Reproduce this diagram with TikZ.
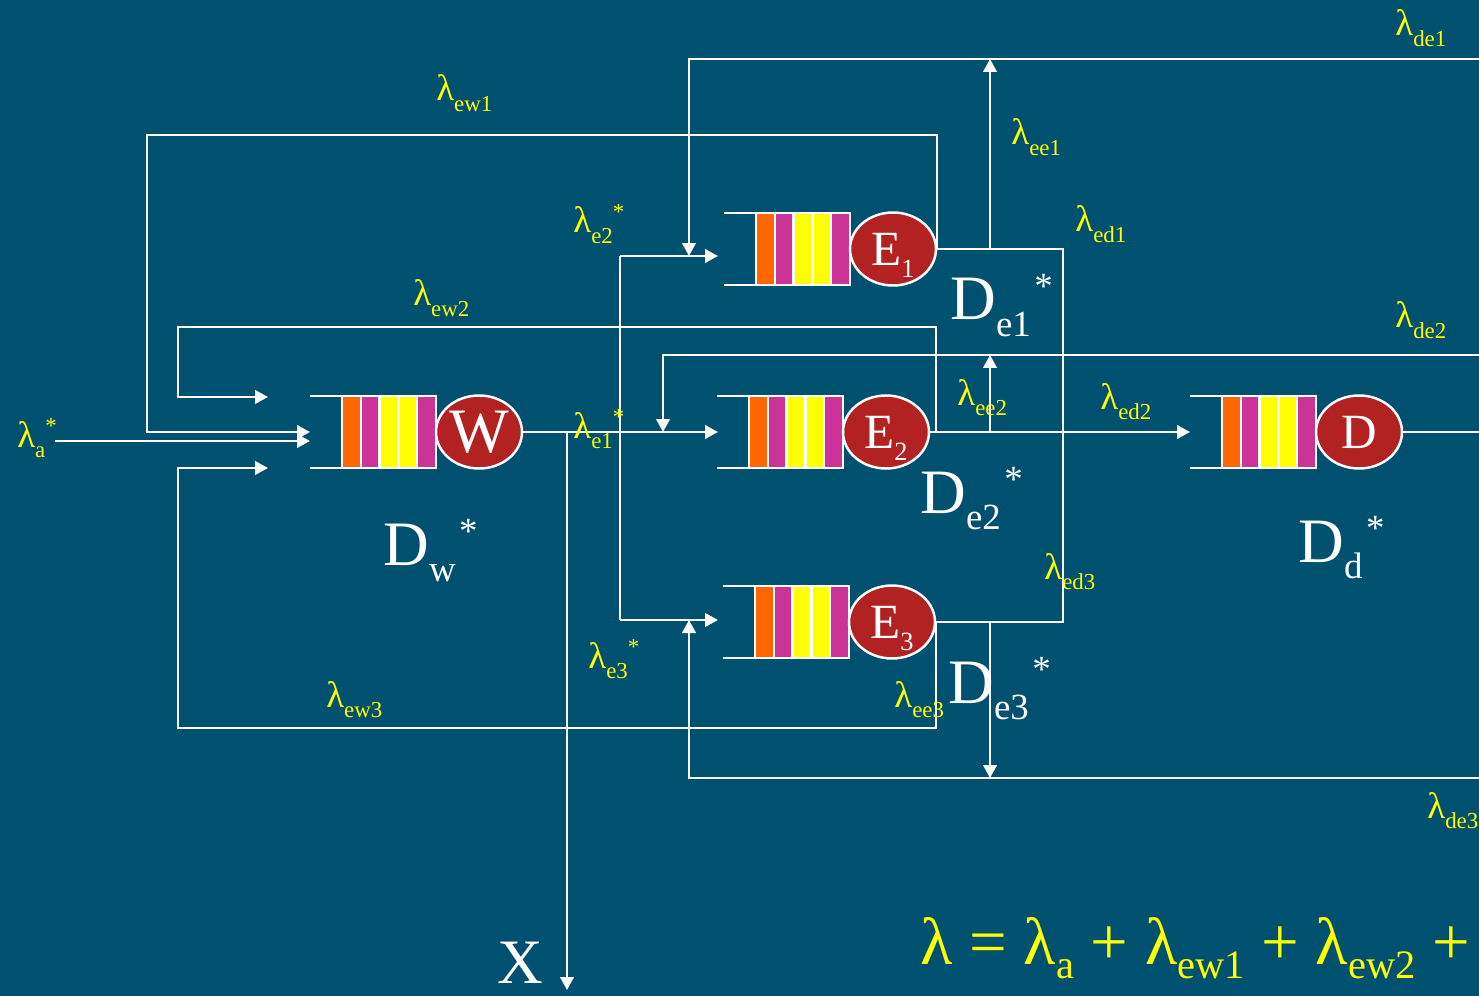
\documentclass[tikz,border=0pt]{standalone}
\usepackage{fontspec}
\setmainfont{Liberation Serif}
\usetikzlibrary{arrows.meta,shapes.geometric}
\definecolor{BgSlide}{RGB}{0,80,112}
\definecolor{FillSrv}{RGB}{178,34,34}
\definecolor{QOrange}{RGB}{255,102,0}
\definecolor{QMagenta}{RGB}{204,51,153}
\definecolor{QYellow}{RGB}{255,255,0}
\definecolor{LabYellow}{RGB}{255,255,0}

% rate label: lambda with lowered subscript and optional star
\newcommand{\lam}[2]{λ\raisebox{-6pt}{\fontsize{13}{14}\selectfont #1}\raisebox{7.5pt}{\fontsize{13}{14}\selectfont #2}}
% delay label
\newcommand{\dlab}[1]{D\raisebox{-9.5pt}{\fontsize{21}{22}\selectfont #1}\hspace{2pt}\raisebox{12pt}{\fontsize{21}{22}\selectfont *}}
\newcommand{\bigsub}[1]{\raisebox{-8pt}{\fontsize{23}{24}\selectfont #1}}
% queue with server: name, left x, centre y, server text
\newcommand{\drawqueue}[4]{%
  \begin{scope}[shift={(#2,#3)}]
    \foreach \qc [count=\qi from 0] in {QOrange,QMagenta,QYellow,QYellow,QMagenta}
      \path[qbar, fill=\qc] ({32+\qi*18.8},-36) rectangle ++(18.8,72);
    \draw[wire] (0,-36) -- (126,-36) -- (126,36) -- (0,36);
    \node[srv] (#1) at (169,0) {#4};
  \end{scope}}

\begin{document}
\begin{tikzpicture}[x=0.02cm, y=-0.02cm,
    wire/.style={white, line width=1.4pt},
    arr/.style={wire, -{Triangle[length=0.26cm, width=0.27cm]}},
    qbar/.style={draw=white, line width=1.3pt},
    srv/.style={ellipse, draw=white, line width=1.4pt, fill=FillSrv, text=white,
      minimum width=1.72cm, minimum height=1.46cm, inner sep=0pt, font=\fontsize{28}{30}\selectfont},
    lbl/.style={text=LabYellow, font=\fontsize{21}{24}\selectfont, inner sep=0pt, anchor=base west},
    dl/.style={text=white, font=\fontsize{36}{40}\selectfont, inner sep=0pt, anchor=base west}
  ]
  \path[use as bounding box, fill=BgSlide] (0,0) rectangle (1479,996);

  % queues
  \drawqueue{W}{310}{432}{\fontsize{36}{38}\selectfont W}
  \drawqueue{E1}{724}{249}{E\raisebox{-7pt}[0pt][0pt]{\fontsize{15}{16}\selectfont 1}}
  \drawqueue{E2}{717}{432}{E\raisebox{-7pt}[0pt][0pt]{\fontsize{15}{16}\selectfont 2}}
  \drawqueue{E3}{723}{622}{E\raisebox{-7pt}[0pt][0pt]{\fontsize{15}{16}\selectfont 3}}
  \drawqueue{D}{1190}{432}{D}

  % junctions and ends
  \coordinate (ain) at (55,441);
  \coordinate (win) at (310,441);
  \coordinate (wfb) at (310,432);
  \coordinate (wtop) at (268,397);
  \coordinate (wbot) at (268,468);
  \coordinate (ew1c) at (147,135);
  \coordinate (ew2c) at (178,327);
  \coordinate (ew3c) at (178,728);
  \coordinate (ew2b) at (936,432);
  \coordinate (xsplit) at (567,432);
  \coordinate (xout) at (567,990);
  \coordinate (esplit1) at (620,256);
  \coordinate (esplit3) at (620,620);
  \coordinate (e1in) at (718,256);
  \coordinate (e2in) at (718,432);
  \coordinate (e3in) at (718,620);
  \coordinate (din) at (1190,432);
  \coordinate (dout) at (1479,432);
  \coordinate (de1r) at (1479,59);
  \coordinate (de1c) at (689,59);
  \coordinate (de1j) at (689,256);
  \coordinate (de2r) at (1479,355);
  \coordinate (de2c) at (663,355);
  \coordinate (de2j) at (663,432);
  \coordinate (de3r) at (1479,778);
  \coordinate (de3c) at (689,778);
  \coordinate (de3j) at (689,620);
  \coordinate (ed1c) at (1063,249);
  \coordinate (ed3c) at (1063,622);
  \coordinate (ee1) at (990,249);
  \coordinate (ee2) at (990,432);
  \coordinate (ee3) at (990,622);

  % arrivals and W output
  \draw[arr] (ain) -- (win);
  \draw[arr] (W.east) -- (e2in);
  \draw[arr] (xsplit) -- (xout);
  \draw[wire] (esplit1) -- (esplit3);
  \draw[arr] (esplit1) -- (e1in);
  \draw[arr] (esplit3) -- (e3in);

  % feedback to W
  \draw[arr] (E1.east) |- (ew1c) |- (wfb);
  \draw[arr] (ew2b) |- (ew2c) |- (wtop);
  \draw[arr] (E3.east) |- (ew3c) |- (wbot);

  % feedback from D
  \draw[arr] (de1r) -- (de1c) -- (de1j);
  \draw[arr] (de2r) -- (de2c) -- (de2j);
  \draw[arr] (de3r) -- (de3c) -- (de3j);
  \draw[arr] (ee1) -- (ee1 |- de1r);
  \draw[arr] (ee2) -- (ee2 |- de2r);
  \draw[arr] (ee3) -- (ee3 |- de3r);

  % E outputs to D
  \draw[wire] (E1.east) -- (ed1c) -- (ed3c) -- (E3.east);
  \draw[arr] (E2.east) -- (din);
  \draw[wire] (D.east) -- (dout);

  % rates
  \node[lbl] (lde1) at (1395,36) {\lam{de1}{}};
  \node[lbl] (lew1) at (436,101) {\lam{ew1}{}};
  \node[lbl] (lee1) at (1011,145) {\lam{ee1}{}};
  \node[lbl] (led1) at (1075,232) {\lam{ed1}{}};
  \node[lbl] (le2) at (573,233) {\lam{e2}{*}};
  \node[lbl] (lew2) at (413,306) {\lam{ew2}{}};
  \node[lbl] (lde2) at (1395,328) {\lam{de2}{}};
  \node[lbl] (lee2) at (957,405) {\lam{ee2}{}};
  \node[lbl] (led2) at (1100,409) {\lam{ed2}{}};
  \node[lbl] (la) at (17,447) {\lam{a}{*}};
  \node[lbl] (le1) at (573,438) {\lam{e1}{*}};
  \node[lbl] (led3) at (1044,579) {\lam{ed3}{}};
  \node[lbl] (le3) at (588,668) {\lam{e3}{*}};
  \node[lbl] (lee3) at (894,707) {\lam{ee3}{}};
  \node[lbl] (lew3) at (326,707) {\lam{ew3}{}};
  \node[lbl] (lde3) at (1427,818) {\lam{de3}{}};

  % delays
  \node[dl] (dlw) at (383,565) {\dlab{w}};
  \node[dl] (dle1) at (950,320) {\dlab{e1}};
  \node[dl] (dle2) at (920,513) {\dlab{e2}};
  \node[dl] (dld) at (1298,562) {\dlab{d}};
  \node[dl] (dle3) at (948,703) {\dlab{e3}};
  \node[dl] (xlab) at (497,983) {X};

  \node[lbl, font=\fontsize{38}{40}\selectfont] (total) at (920,964)
    {λ = λ\bigsub{a} + λ\bigsub{ew1} + λ\bigsub{ew2} +};
\end{tikzpicture}
\end{document}
